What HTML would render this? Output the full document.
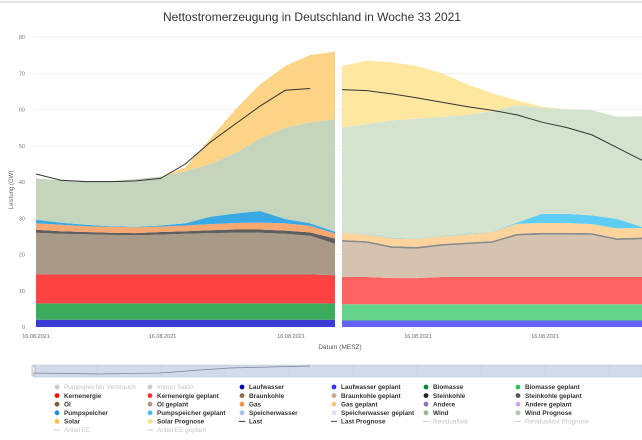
<!DOCTYPE html>
<html><head><meta charset="utf-8"><style>
body{margin:0;background:#fff;font-family:"Liberation Sans",sans-serif;}
svg text{font-family:"Liberation Sans",sans-serif;}
</style></head><body>
<svg id="chart" width="642" height="435" viewBox="0 0 642 435" xmlns="http://www.w3.org/2000/svg">
<rect x="0" y="0" width="642" height="435" fill="#fff"/>
<line x1="0" y1="2" x2="642" y2="2" stroke="#e4e4e4" stroke-width="2"/>
<text x="312" y="21" text-anchor="middle" font-size="12" fill="#333">Nettostromerzeugung in Deutschland in Woche 33 2021</text>
<text transform="translate(13,190) rotate(-90)" text-anchor="middle" font-size="6" fill="#666">Leistung (GW)</text>
<text x="340" y="349" text-anchor="middle" font-size="6.5" fill="#555">Datum (MESZ)</text>
<g id="grid"></g>
<g id="areas"></g>
<g id="lines"></g>
<g id="xlabels"></g>
<g id="nav">
<rect x="33" y="365" width="609" height="12" fill="#d3dbeb" stroke="#b8c2d8" stroke-width="0.5"/>
<rect x="32" y="366" width="3" height="9" fill="#eee" stroke="#999" stroke-width="0.5"/>
</g>
<g id="legend"></g>
</svg>
<script>
const yTicks=[0,10,20,30,40,50,60,70,80];
const xTickLabels=["16.08.2021","16.08.2021","16.08.2021","16.08.2021","16.08.2021"];
const xTickPos=[0,5,10,15,20]; // time index of labels
const seriesNames=["Laufwasser","Biomasse","Kernenergie","Braunkohle","Steinkohle","Gas","Pumpspeicher","Wind","Solar"];
// left segment (actual)
const lLauf=[2,2,2,2,2,2,2,2,2,2,2,2,2];
const lBio=[4.5,4.5,4.5,4.5,4.5,4.5,4.5,4.5,4.5,4.5,4.5,4.5,4.5];
const lKern=[8,8,8,8,8,8,8,8,8,8,8,8,7.8];
const lBraun=[11.5,11.2,11.1,10.9,10.8,11,11.2,11.4,11.5,11.5,11.2,10.7,8.7];
const lStein=[0.8,0.7,0.6,0.6,0.6,0.7,0.7,0.8,0.9,0.9,0.9,0.9,1.4];
const lGas=[1.8,1.8,1.6,1.6,1.6,1.5,1.6,1.7,1.8,1.9,2,1.8,1.4];
const lPump=[1,0.6,0.4,0.2,0.1,0.3,0.6,2,2.6,3.2,1.2,0.7,0.5];
const lWind=[11.4,11.7,12.1,12.4,13.2,13.5,14.4,14.6,16.7,20,25.2,27.9,31];
const lSolar=[0,0,0,0,0,0,1,7,12,15,17,18.5,18.7];
const lLast=[42.2,40.5,40.1,40.1,40.3,41,45,51,56,61,65.3,65.8,null];
// right segment (planned / forecast)
const rLauf=[1.8,1.8,1.8,1.8,1.8,1.8,1.8,1.8,1.8,1.8,1.8,1.8,1.8];
const rBio=[4.5,4.5,4.5,4.5,4.5,4.5,4.5,4.5,4.5,4.5,4.5,4.5,4.5];
const rKern=[7.5,7.5,7.2,7.2,7.5,7.5,7.5,7.5,7.5,7.5,7.5,7.5,7.5];
const rBraun=[9.7,9.4,8.3,8.1,8.6,9,9.4,11.4,11.7,11.7,11.6,10.2,10.4];
const rStein=[0.5,0.5,0.5,0.5,0.5,0.5,0.5,0.5,0.5,0.5,0.5,0.5,0.5];
const rGas=[2,1.8,2.2,2.2,2.1,2.3,2.5,2.8,2.7,2.7,2.5,2.7,2.6];
const rPump=[0,0.1,0.1,0.1,0.1,0.1,0.1,0.3,2.5,2.5,2.4,2.6,0.3];
const rWind=[29,30.4,32.4,33.1,32.9,32.8,33.2,32.4,29.3,28.8,29,28.2,30.5];
const rSolar=[17,17.5,16,14.5,12,8.5,5,1.3,0.3,0,0,0,0];
const rLast=[65.5,65.2,64.3,63.2,62,60.8,59.8,58.5,56.5,55,53,49.5,46];
const lColors=["#3c3cd2","#3dab5e","#ff4242","#a99a88","#5e5e5e","#f6a870","#3aa8e2","#c5d5bd","#fdd385"];
const rColors=["#6262f6","#66d58c","#ff6262","#d6c3af","#8a8a8a","#fed49c","#5dcdf6","#d3e3cd","#ffe7a0"];
const legendItems=[
["Pumpspeicher Verbrauch","#ccc","dot",1],["Import Saldo","#ccc","dot",1],["Laufwasser","#0000b0","dot",0],["Laufwasser geplant","#3333f0","dot",0],["Biomasse","#008a30","dot",0],["Biomasse geplant","#2ec060","dot",0],
["Kernenergie","#f00","dot",0],["Kernenergie geplant","#f33","dot",0],["Braunkohle","#8a6a50","dot",0],["Braunkohle geplant","#c4a890","dot",0],["Steinkohle","#222","dot",0],["Steinkohle geplant","#555","dot",0],
["Öl","#7a5a40","dot",0],["Öl geplant","#b09880","dot",0],["Gas","#f89048","dot",0],["Gas geplant","#fcc880","dot",0],["Andere","#9070b8","dot",0],["Andere geplant","#c8a8e0","dot",0],
["Pumpspeicher","#1890e0","dot",0],["Pumpspeicher geplant","#40c0f0","dot",0],["Speicherwasser","#a8c0f0","dot",0],["Speicherwasser geplant","#dde0fa","dot",0],["Wind","#98b890","dot",0],["Wind Prognose","#a8c8a0","dot",0],
["Solar","#fcc040","dot",0],["Solar Prognose","#fde080","dot",0],["Last","#333","line",0],["Last Prognose","#444","line",0],["Residuallast","#ccc","line",1],["Residuallast Prognose","#ccc","line",1],
["Anteil EE","#ccc","line",1],["Anteil EE geplant","#ccc","line",1]];
const NS="http://www.w3.org/2000/svg";
function el(t,a,p){const e=document.createElementNS(NS,t);for(const k in a)e.setAttribute(k,a[k]);p.appendChild(e);return e;}
const yS=v=>327-v*3.625;
const xL=i=>36+i*(299/12);
const xR=i=>342+i*25;
const grid=document.getElementById('grid');
yTicks.forEach(t=>{
 const l=el('line',{x1:33,x2:642,y1:yS(t),y2:yS(t),stroke:'#eeeeee','stroke-width':0.7},grid);
 
 
 const tx=el('text',{x:25,y:yS(t)+2,'text-anchor':'end','font-size':5.5,fill:'#777'},grid);tx.textContent=t;
 
 
});
const areas=document.getElementById('areas');
function drawStack(layers,colors,xf,seg){
 const n=layers[0].length;let base=new Array(n).fill(0);
 layers.forEach((arr,k)=>{
  const top=base.map((b,i)=>b+arr[i]);
  let d='';for(let i=0;i<n;i++)d+=(i?'L':'M')+xf(i).toFixed(1)+','+yS(top[i]).toFixed(1);
  for(let i=n-1;i>=0;i--)d+='L'+xf(i).toFixed(1)+','+yS(base[i]).toFixed(1);
  const p=el('path',{d:d+'Z',fill:colors[k]},areas);
  
  
  base=top;
 });
}
drawStack([lLauf,lBio,lKern,lBraun,lStein,lGas,lPump,lWind,lSolar],lColors,xL,'actual');
drawStack([rLauf,rBio,rKern,rBraun,rStein,rGas,rPump,rWind,rSolar],rColors,xR,'planned');
const lines=document.getElementById('lines');
function drawLine(arr,xf,name,col){
 let d='';let s=true;arr.forEach((v,i)=>{if(v==null)return;d+=(s?'M':'L')+xf(i).toFixed(1)+','+yS(v).toFixed(1);s=false;});
 const p=el('path',{d:d,fill:'none',stroke:col,'stroke-width':1},lines);
 
 
}
drawLine(lLast,xL,'last-line','#333');
drawLine(rLast,xR,'last-prognose-line','#333');
const xl=document.getElementById('xlabels');
xTickLabels.forEach((t,j)=>{
 const idx=xTickPos[j];const x=idx<10?36+idx*25.3:418+(idx-15)*25.4;
 const tx=el('text',{x:x,y:338,'text-anchor':'middle','font-size':5.5,fill:'#666'},xl);tx.textContent=t;
 
 
});
const nav=document.getElementById('nav');
for(let i=1;i<10;i++){el('line',{x1:33+i*64,x2:33+i*64,y1:365,y2:377,stroke:'#c0c8dc','stroke-width':0.5},nav);}
el('path',{d:'M33,373 L100,374 L160,373 L200,370 L230,368 L310,366',fill:'none',stroke:'#7a8296','stroke-width':0.7},nav);
const lg=document.getElementById('legend');
const colX=[57,150,242,334,426,518];
legendItems.forEach((it,i)=>{
 const c=i%6,r=Math.floor(i/6);const x=colX[c],y=387+r*8.6;
 const g=el('g',{},lg);
 
 
 if(it[2]=='dot')el('circle',{cx:x,cy:y,r:2.4,fill:it[1]},g);
 else el('line',{x1:x-3,x2:x+3,y1:y,y2:y,stroke:it[1],'stroke-width':1},g);
 const t=el('text',{x:x+7,y:y+2.2,'font-size':6.4,'font-weight':it[3]?'normal':'bold',fill:it[3]?'#c4c4c4':'#333'},g);t.textContent=it[0];
});
</script>
</body></html>
